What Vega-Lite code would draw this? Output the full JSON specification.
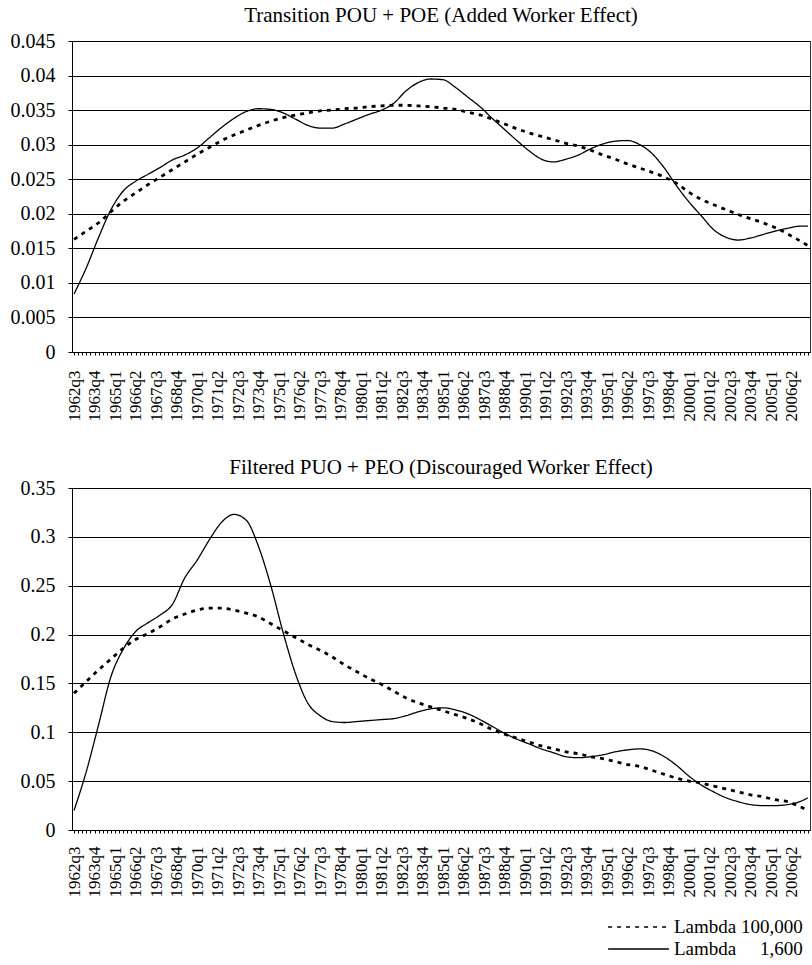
{
  "$schema": "https://vega.github.io/schema/vega-lite/v6.json",
  "padding": {"left": 9, "top": 4, "right": 2, "bottom": 0},
  "background": "white",
  "config": {
    "font": "Liberation Serif",
    "view": {"stroke": "#333333", "strokeWidth": 1},
    "axis": {"labelFont": "Liberation Serif", "labelColor": "black", "domainColor": "black", "tickColor": "black", "gridColor": "black", "gridOpacity": 1, "gridWidth": 1, "domainWidth": 1},
    "title": {"font": "Liberation Serif", "fontSize": 21, "fontWeight": "normal", "color": "black", "anchor": "middle"},
    "legend": {"labelFont": "Liberation Serif", "labelColor": "black"}
  },
  "datasets": {
    "top": [
      {"q": 0, "Lambda 1,600": 0.0084, "Lambda 100,000": 0.0163},
      {"q": 3, "Lambda 1,600": 0.0122, "Lambda 100,000": 0.0175},
      {"q": 6, "Lambda 1,600": 0.0166, "Lambda 100,000": 0.0187},
      {"q": 9, "Lambda 1,600": 0.0206, "Lambda 100,000": 0.0203},
      {"q": 12, "Lambda 1,600": 0.0233, "Lambda 100,000": 0.0218},
      {"q": 15, "Lambda 1,600": 0.0247, "Lambda 100,000": 0.0230},
      {"q": 18, "Lambda 1,600": 0.0257, "Lambda 100,000": 0.0242},
      {"q": 21, "Lambda 1,600": 0.0267, "Lambda 100,000": 0.0253},
      {"q": 24, "Lambda 1,600": 0.0278, "Lambda 100,000": 0.0264},
      {"q": 27, "Lambda 1,600": 0.0285, "Lambda 100,000": 0.0275},
      {"q": 30, "Lambda 1,600": 0.0295, "Lambda 100,000": 0.0286},
      {"q": 33, "Lambda 1,600": 0.0310, "Lambda 100,000": 0.0296},
      {"q": 36, "Lambda 1,600": 0.0325, "Lambda 100,000": 0.0306},
      {"q": 39, "Lambda 1,600": 0.0338, "Lambda 100,000": 0.0314},
      {"q": 42, "Lambda 1,600": 0.0348, "Lambda 100,000": 0.0321},
      {"q": 45, "Lambda 1,600": 0.0352, "Lambda 100,000": 0.0328},
      {"q": 48, "Lambda 1,600": 0.0351, "Lambda 100,000": 0.0334},
      {"q": 51, "Lambda 1,600": 0.0346, "Lambda 100,000": 0.0339},
      {"q": 54, "Lambda 1,600": 0.0337, "Lambda 100,000": 0.0343},
      {"q": 57, "Lambda 1,600": 0.0328, "Lambda 100,000": 0.0346},
      {"q": 60, "Lambda 1,600": 0.0324, "Lambda 100,000": 0.0349},
      {"q": 63, "Lambda 1,600": 0.0324, "Lambda 100,000": 0.0350},
      {"q": 66, "Lambda 1,600": 0.0330, "Lambda 100,000": 0.0352},
      {"q": 69, "Lambda 1,600": 0.0337, "Lambda 100,000": 0.0353},
      {"q": 72, "Lambda 1,600": 0.0344, "Lambda 100,000": 0.0355},
      {"q": 75, "Lambda 1,600": 0.0350, "Lambda 100,000": 0.0356},
      {"q": 78, "Lambda 1,600": 0.0360, "Lambda 100,000": 0.0357},
      {"q": 81, "Lambda 1,600": 0.0378, "Lambda 100,000": 0.0357},
      {"q": 84, "Lambda 1,600": 0.0390, "Lambda 100,000": 0.0356},
      {"q": 87, "Lambda 1,600": 0.0395, "Lambda 100,000": 0.0355},
      {"q": 90, "Lambda 1,600": 0.0394, "Lambda 100,000": 0.0353},
      {"q": 93, "Lambda 1,600": 0.0383, "Lambda 100,000": 0.0351},
      {"q": 96, "Lambda 1,600": 0.0369, "Lambda 100,000": 0.0347},
      {"q": 99, "Lambda 1,600": 0.0355, "Lambda 100,000": 0.0343},
      {"q": 102, "Lambda 1,600": 0.0338, "Lambda 100,000": 0.0337},
      {"q": 105, "Lambda 1,600": 0.0322, "Lambda 100,000": 0.0330},
      {"q": 108, "Lambda 1,600": 0.0306, "Lambda 100,000": 0.0323},
      {"q": 111, "Lambda 1,600": 0.0291, "Lambda 100,000": 0.0317},
      {"q": 114, "Lambda 1,600": 0.0279, "Lambda 100,000": 0.0312},
      {"q": 117, "Lambda 1,600": 0.0275, "Lambda 100,000": 0.0307},
      {"q": 120, "Lambda 1,600": 0.0279, "Lambda 100,000": 0.0302},
      {"q": 123, "Lambda 1,600": 0.0285, "Lambda 100,000": 0.0298},
      {"q": 126, "Lambda 1,600": 0.0294, "Lambda 100,000": 0.0292},
      {"q": 129, "Lambda 1,600": 0.0301, "Lambda 100,000": 0.0285},
      {"q": 132, "Lambda 1,600": 0.0305, "Lambda 100,000": 0.0279},
      {"q": 135, "Lambda 1,600": 0.0306, "Lambda 100,000": 0.0272},
      {"q": 138, "Lambda 1,600": 0.0300, "Lambda 100,000": 0.0266},
      {"q": 141, "Lambda 1,600": 0.0287, "Lambda 100,000": 0.0260},
      {"q": 144, "Lambda 1,600": 0.0266, "Lambda 100,000": 0.0253},
      {"q": 147, "Lambda 1,600": 0.0240, "Lambda 100,000": 0.0244},
      {"q": 150, "Lambda 1,600": 0.0217, "Lambda 100,000": 0.0231},
      {"q": 153, "Lambda 1,600": 0.0197, "Lambda 100,000": 0.0221},
      {"q": 156, "Lambda 1,600": 0.0177, "Lambda 100,000": 0.0213},
      {"q": 159, "Lambda 1,600": 0.0166, "Lambda 100,000": 0.0206},
      {"q": 162, "Lambda 1,600": 0.0162, "Lambda 100,000": 0.0199},
      {"q": 165, "Lambda 1,600": 0.0165, "Lambda 100,000": 0.0193},
      {"q": 168, "Lambda 1,600": 0.0170, "Lambda 100,000": 0.0187},
      {"q": 171, "Lambda 1,600": 0.0175, "Lambda 100,000": 0.0180},
      {"q": 174, "Lambda 1,600": 0.0179, "Lambda 100,000": 0.0171},
      {"q": 177, "Lambda 1,600": 0.0182, "Lambda 100,000": 0.0161},
      {"q": 179, "Lambda 1,600": 0.0182, "Lambda 100,000": 0.0154}
    ],
    "bottom": [
      {"q": 0, "Lambda 1,600": 0.020, "Lambda 100,000": 0.140},
      {"q": 3, "Lambda 1,600": 0.060, "Lambda 100,000": 0.152},
      {"q": 6, "Lambda 1,600": 0.108, "Lambda 100,000": 0.164},
      {"q": 9, "Lambda 1,600": 0.157, "Lambda 100,000": 0.175},
      {"q": 12, "Lambda 1,600": 0.185, "Lambda 100,000": 0.186},
      {"q": 15, "Lambda 1,600": 0.203, "Lambda 100,000": 0.195},
      {"q": 18, "Lambda 1,600": 0.212, "Lambda 100,000": 0.201},
      {"q": 21, "Lambda 1,600": 0.220, "Lambda 100,000": 0.208},
      {"q": 24, "Lambda 1,600": 0.231, "Lambda 100,000": 0.216},
      {"q": 27, "Lambda 1,600": 0.258, "Lambda 100,000": 0.221},
      {"q": 30, "Lambda 1,600": 0.276, "Lambda 100,000": 0.225},
      {"q": 33, "Lambda 1,600": 0.297, "Lambda 100,000": 0.227},
      {"q": 36, "Lambda 1,600": 0.315, "Lambda 100,000": 0.227},
      {"q": 39, "Lambda 1,600": 0.323, "Lambda 100,000": 0.225},
      {"q": 42, "Lambda 1,600": 0.317, "Lambda 100,000": 0.222},
      {"q": 45, "Lambda 1,600": 0.290, "Lambda 100,000": 0.218},
      {"q": 48, "Lambda 1,600": 0.250, "Lambda 100,000": 0.211},
      {"q": 51, "Lambda 1,600": 0.202, "Lambda 100,000": 0.204},
      {"q": 54, "Lambda 1,600": 0.160, "Lambda 100,000": 0.197},
      {"q": 57, "Lambda 1,600": 0.130, "Lambda 100,000": 0.190},
      {"q": 60, "Lambda 1,600": 0.117, "Lambda 100,000": 0.184},
      {"q": 63, "Lambda 1,600": 0.111, "Lambda 100,000": 0.177},
      {"q": 66, "Lambda 1,600": 0.110, "Lambda 100,000": 0.169},
      {"q": 69, "Lambda 1,600": 0.111, "Lambda 100,000": 0.162},
      {"q": 72, "Lambda 1,600": 0.112, "Lambda 100,000": 0.155},
      {"q": 75, "Lambda 1,600": 0.113, "Lambda 100,000": 0.149},
      {"q": 78, "Lambda 1,600": 0.114, "Lambda 100,000": 0.142},
      {"q": 81, "Lambda 1,600": 0.117, "Lambda 100,000": 0.135},
      {"q": 84, "Lambda 1,600": 0.121, "Lambda 100,000": 0.130},
      {"q": 87, "Lambda 1,600": 0.124, "Lambda 100,000": 0.126},
      {"q": 90, "Lambda 1,600": 0.125, "Lambda 100,000": 0.122},
      {"q": 93, "Lambda 1,600": 0.123, "Lambda 100,000": 0.118},
      {"q": 96, "Lambda 1,600": 0.119, "Lambda 100,000": 0.114},
      {"q": 99, "Lambda 1,600": 0.113, "Lambda 100,000": 0.109},
      {"q": 102, "Lambda 1,600": 0.106, "Lambda 100,000": 0.103},
      {"q": 105, "Lambda 1,600": 0.099, "Lambda 100,000": 0.098},
      {"q": 108, "Lambda 1,600": 0.093, "Lambda 100,000": 0.094},
      {"q": 111, "Lambda 1,600": 0.088, "Lambda 100,000": 0.090},
      {"q": 114, "Lambda 1,600": 0.083, "Lambda 100,000": 0.086},
      {"q": 117, "Lambda 1,600": 0.079, "Lambda 100,000": 0.083},
      {"q": 120, "Lambda 1,600": 0.075, "Lambda 100,000": 0.080},
      {"q": 123, "Lambda 1,600": 0.074, "Lambda 100,000": 0.078},
      {"q": 126, "Lambda 1,600": 0.075, "Lambda 100,000": 0.075},
      {"q": 129, "Lambda 1,600": 0.077, "Lambda 100,000": 0.073},
      {"q": 132, "Lambda 1,600": 0.080, "Lambda 100,000": 0.070},
      {"q": 135, "Lambda 1,600": 0.082, "Lambda 100,000": 0.067},
      {"q": 138, "Lambda 1,600": 0.083, "Lambda 100,000": 0.065},
      {"q": 141, "Lambda 1,600": 0.081, "Lambda 100,000": 0.061},
      {"q": 144, "Lambda 1,600": 0.075, "Lambda 100,000": 0.057},
      {"q": 147, "Lambda 1,600": 0.066, "Lambda 100,000": 0.053},
      {"q": 150, "Lambda 1,600": 0.055, "Lambda 100,000": 0.050},
      {"q": 153, "Lambda 1,600": 0.046, "Lambda 100,000": 0.048},
      {"q": 156, "Lambda 1,600": 0.039, "Lambda 100,000": 0.045},
      {"q": 159, "Lambda 1,600": 0.033, "Lambda 100,000": 0.042},
      {"q": 162, "Lambda 1,600": 0.029, "Lambda 100,000": 0.039},
      {"q": 165, "Lambda 1,600": 0.026, "Lambda 100,000": 0.036},
      {"q": 168, "Lambda 1,600": 0.025, "Lambda 100,000": 0.034},
      {"q": 171, "Lambda 1,600": 0.025, "Lambda 100,000": 0.031},
      {"q": 174, "Lambda 1,600": 0.026, "Lambda 100,000": 0.029},
      {"q": 177, "Lambda 1,600": 0.029, "Lambda 100,000": 0.024},
      {"q": 179, "Lambda 1,600": 0.033, "Lambda 100,000": 0.020}
    ]
  },
  "spacing": 34,
  "vconcat": [
    {
      "title": {"text": "Transition POU + POE (Added Worker Effect)", "offset": 5, "font": "Liberation Serif"},
      "width": 738,
      "height": 311,
      "data": {"name": "top"},
      "transform": [{"fold": ["Lambda 100,000", "Lambda 1,600"], "as": ["series", "value"]}],
      "layer": [
        {
          "transform": [{"filter": "datum.series == 'Lambda 100,000'"}],
          "mark": {"type": "line", "interpolate": "monotone", "color": "black", "strokeWidth": 2.8}
        },
        {
          "transform": [{"filter": "datum.series == 'Lambda 1,600'"}],
          "mark": {"type": "line", "interpolate": "monotone", "color": "black", "strokeWidth": 1.3}
        }
      ],
      "encoding": {
        "x": {"field": "q", "type": "quantitative", "scale": {"domain": [-0.5, 179.5], "nice": false, "zero": false},
          "axis": {"title": null, "grid": false, "values": [0,1,2,3,4,5,6,7,8,9,10,11,12,13,14,15,16,17,18,19,20,21,22,23,24,25,26,27,28,29,30,31,32,33,34,35,36,37,38,39,40,41,42,43,44,45,46,47,48,49,50,51,52,53,54,55,56,57,58,59,60,61,62,63,64,65,66,67,68,69,70,71,72,73,74,75,76,77,78,79,80,81,82,83,84,85,86,87,88,89,90,91,92,93,94,95,96,97,98,99,100,101,102,103,104,105,106,107,108,109,110,111,112,113,114,115,116,117,118,119,120,121,122,123,124,125,126,127,128,129,130,131,132,133,134,135,136,137,138,139,140,141,142,143,144,145,146,147,148,149,150,151,152,153,154,155,156,157,158,159,160,161,162,163,164,165,166,167,168,169,170,171,172,173,174,175,176,177,178,179],
            "labelExpr": "datum.value % 5 == 0 ? (floor((datum.value + 2) / 4) + 1962) + 'q' + ((datum.value + 2) % 4 + 1) : ''",
            "labelFont": "Liberation Serif", "labelColor": "black",
            "labelAngle": 270, "labelAlign": "right", "labelBaseline": "middle", "labelFontSize": 17, "labelPadding": 15, "tickSize": 3, "labelOverlap": false, "labelFlush": false, "labelBound": false}},
        "y": {"field": "value", "type": "quantitative", "scale": {"domain": [0, 0.045], "nice": false, "zero": true},
          "axis": {"title": null, "grid": true, "values": [0, 0.005, 0.01, 0.015, 0.02, 0.025, 0.03, 0.035, 0.04, 0.045], "labelExpr": "'' + datum.value", "labelFont": "Liberation Serif", "labelColor": "black", "labelFontSize": 20, "labelPadding": 13, "tickSize": 4}},
        "strokeDash": {"field": "series", "type": "nominal",
          "scale": {"domain": ["Lambda 100,000", "Lambda 1,600"], "range": [[4, 5], [1, 0]]},
          "legend": {"orient": "none", "legendX": 535, "legendY": 876, "title": null, "symbolType": "stroke", "symbolSize": 3700, "clipHeight": 20, "symbolStrokeColor": "black", "symbolStrokeWidth": 1.5, "labelFont": "Liberation Serif", "labelColor": "black", "labelFontSize": 19, "labelOffset": 4, "rowPadding": 2,
            "labelExpr": "datum.label == 'Lambda 1,600' ? 'Lambda\u00a0\u00a0\u00a0\u00a0\u00a01,600' : datum.label"}}
      }
    },
    {
      "title": {"text": "Filtered PUO + PEO (Discouraged Worker Effect)", "offset": 0, "font": "Liberation Serif"},
      "width": 738,
      "height": 342,
      "data": {"name": "bottom"},
      "transform": [{"fold": ["Lambda 100,000", "Lambda 1,600"], "as": ["series", "value"]}],
      "layer": [
        {
          "transform": [{"filter": "datum.series == 'Lambda 100,000'"}],
          "mark": {"type": "line", "interpolate": "monotone", "color": "black", "strokeWidth": 2.8}
        },
        {
          "transform": [{"filter": "datum.series == 'Lambda 1,600'"}],
          "mark": {"type": "line", "interpolate": "monotone", "color": "black", "strokeWidth": 1.3}
        }
      ],
      "encoding": {
        "x": {"field": "q", "type": "quantitative", "scale": {"domain": [-0.5, 179.5], "nice": false, "zero": false},
          "axis": {"title": null, "grid": false, "values": [0,1,2,3,4,5,6,7,8,9,10,11,12,13,14,15,16,17,18,19,20,21,22,23,24,25,26,27,28,29,30,31,32,33,34,35,36,37,38,39,40,41,42,43,44,45,46,47,48,49,50,51,52,53,54,55,56,57,58,59,60,61,62,63,64,65,66,67,68,69,70,71,72,73,74,75,76,77,78,79,80,81,82,83,84,85,86,87,88,89,90,91,92,93,94,95,96,97,98,99,100,101,102,103,104,105,106,107,108,109,110,111,112,113,114,115,116,117,118,119,120,121,122,123,124,125,126,127,128,129,130,131,132,133,134,135,136,137,138,139,140,141,142,143,144,145,146,147,148,149,150,151,152,153,154,155,156,157,158,159,160,161,162,163,164,165,166,167,168,169,170,171,172,173,174,175,176,177,178,179],
            "labelExpr": "datum.value % 5 == 0 ? (floor((datum.value + 2) / 4) + 1962) + 'q' + ((datum.value + 2) % 4 + 1) : ''",
            "labelFont": "Liberation Serif", "labelColor": "black",
            "labelAngle": 270, "labelAlign": "right", "labelBaseline": "middle", "labelFontSize": 17, "labelPadding": 13, "tickSize": 3, "labelOverlap": false, "labelFlush": false, "labelBound": false}},
        "y": {"field": "value", "type": "quantitative", "scale": {"domain": [0, 0.35], "nice": false, "zero": true},
          "axis": {"title": null, "grid": true, "values": [0, 0.05, 0.1, 0.15, 0.2, 0.25, 0.3, 0.35], "labelExpr": "'' + datum.value", "labelFont": "Liberation Serif", "labelColor": "black", "labelFontSize": 20, "labelPadding": 13, "tickSize": 4}},
        "strokeDash": {"field": "series", "type": "nominal",
          "scale": {"domain": ["Lambda 100,000", "Lambda 1,600"], "range": [[4, 5], [1, 0]]},
          "legend": {"orient": "none", "legendX": 535, "legendY": 876, "title": null, "symbolType": "stroke", "symbolSize": 3700, "clipHeight": 20, "symbolStrokeColor": "black", "symbolStrokeWidth": 1.5, "labelFont": "Liberation Serif", "labelColor": "black", "labelFontSize": 19, "labelOffset": 4, "rowPadding": 2,
            "labelExpr": "datum.label == 'Lambda 1,600' ? 'Lambda\u00a0\u00a0\u00a0\u00a0\u00a01,600' : datum.label"}}
      }
    }
  ]
}
